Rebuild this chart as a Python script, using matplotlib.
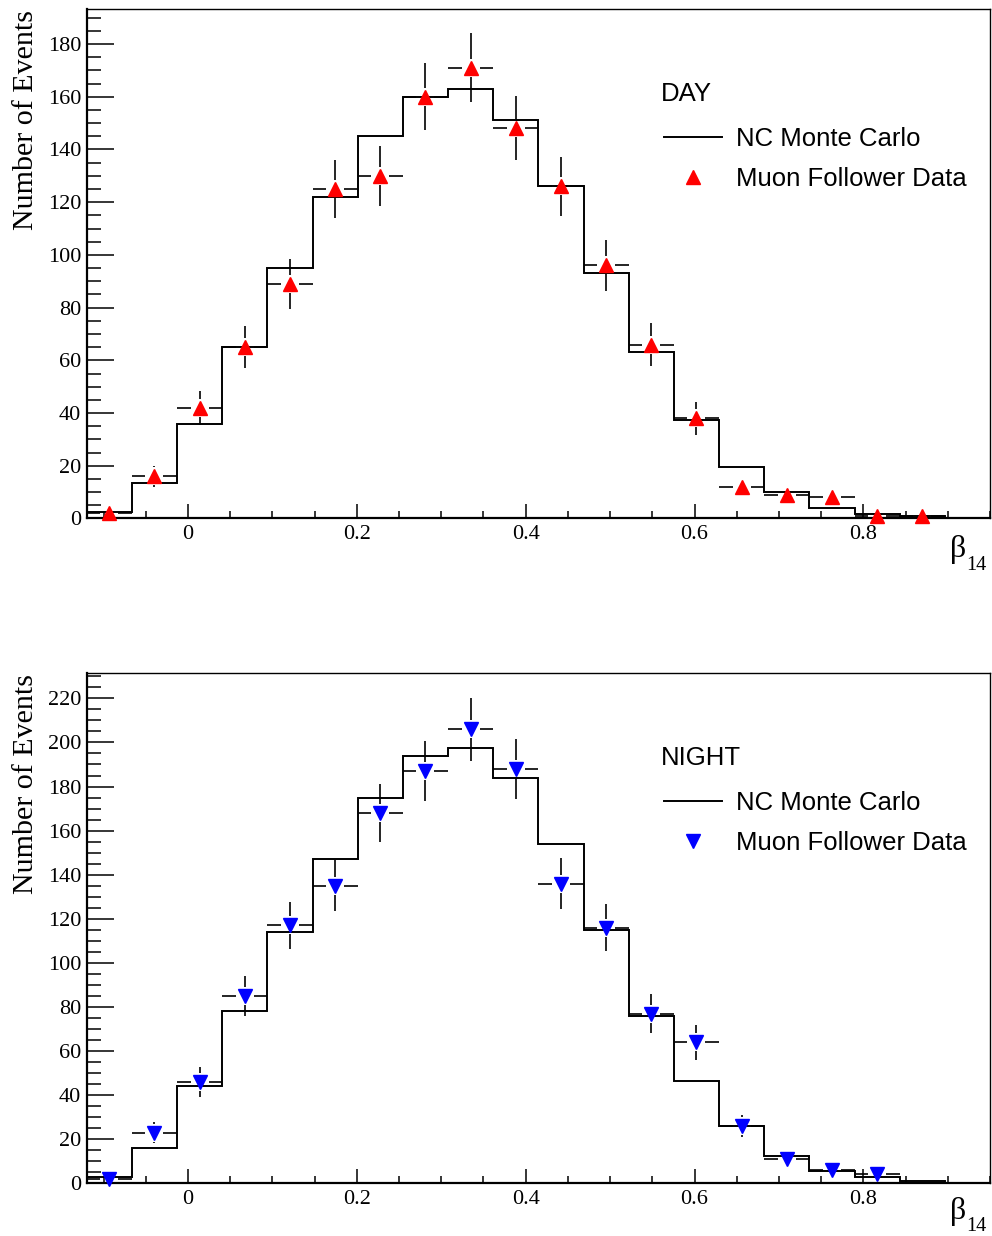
import numpy as np
import matplotlib
matplotlib.use("Agg")
import matplotlib.pyplot as plt
from matplotlib.ticker import MultipleLocator, FuncFormatter
from matplotlib.collections import LineCollection
from matplotlib.lines import Line2D

# Binning of the beta_14 isotropy parameter
BETA_LO, BETA_HI, N_BINS = -0.12, 0.95, 20

# Day sample: normalised NC Monte Carlo and muon-follower counts per bin
day_mc = [2.5, 13.5, 36, 65, 95, 122, 145, 160, 163, 151,
          126, 93, 63, 37.5, 19.5, 10, 4, 1.8, 0.8, 0]
day_data = [2, 16, 42, 65, 89, 125, 130, 160, 171, 148,
            126, 96, 66, 38, 12, 9, 8, 1, 1]

# Night sample
night_mc = [3, 16, 44, 78, 114, 147, 175, 194, 197.5, 184,
            154, 115, 76, 46.5, 26, 12.5, 5.7, 2.7, 1.1, 0]
night_data = [2, 23, 46, 85, 117, 135, 168, 187, 206, 188,
              136, 116, 77, 64, 26, 11, 6, 4]

x_label = "β"
x_label_sub = "14"
y_label = "Number of Events"
mc_label = "NC Monte Carlo"
data_label = "Muon Follower Data"

W, H = 992, 1236
fig = plt.figure(figsize=(W / 100, H / 100), dpi=100)

SERIF = "Liberation Serif"
SANS = "Liberation Sans"


def fx(px):
    return px / W


def fy(py):
    return 1 - py / H


def draw_panel(left, top, right, bottom, mc, data, color, marker, tag, title_dy):
    ax = fig.add_axes([fx(left), fy(bottom), (right - left) / W, (bottom - top) / H])
    edges = np.linspace(BETA_LO, BETA_HI, N_BINS + 1)
    centers = 0.5 * (edges[:-1] + edges[1:])
    half = 0.5 * (edges[1] - edges[0])
    counts = np.asarray(data, dtype=float)
    n = len(counts)
    xs = centers[:n]
    err = np.sqrt(counts)
    ymax = 1.05 * np.max(counts + err)

    ax.set_xlim(BETA_LO, BETA_HI)
    ax.set_ylim(0, ymax)

    # Monte Carlo histogram outline
    ax.stairs(mc, edges, color="black", lw=1.4, zorder=2)

    # Error bars with a gap left around each marker
    gap = 9.0
    gx = gap * (BETA_HI - BETA_LO) / ax.bbox.width
    gy = gap * ymax / ax.bbox.height
    segs = []
    for x, y, e in zip(xs, counts, err):
        segs.append([(x - half, y), (x - gx, y)])
        segs.append([(x + gx, y), (x + half, y)])
        if e > gy:
            segs.append([(x, y + gy), (x, y + e)])
            segs.append([(x, y - e), (x, y - gy)])
    ax.add_collection(LineCollection(segs, colors="black", linewidths=1.2, zorder=3))

    ax.plot(xs, counts, ls="none", marker=marker, ms=10.5, color=color,
            mec=color, zorder=4, clip_on=False)

    # Axis styling
    ax.xaxis.set_major_locator(MultipleLocator(0.2))
    ax.xaxis.set_minor_locator(MultipleLocator(0.05))
    ax.yaxis.set_major_locator(MultipleLocator(20))
    ax.yaxis.set_minor_locator(MultipleLocator(5))
    ax.xaxis.set_major_formatter(FuncFormatter(lambda v, p: "0" if abs(v) < 1e-9 else f"{v:g}"))
    ax.yaxis.set_major_formatter(FuncFormatter(lambda v, p: f"{v:g}"))
    ax.tick_params(axis="both", which="both", direction="in", top=False, right=False,
                   width=1.1, color="black")
    ax.tick_params(axis="x", which="major", length=10, pad=5)
    ax.tick_params(axis="x", which="minor", length=5)
    ax.tick_params(axis="y", which="major", length=19.5, pad=4)
    ax.tick_params(axis="y", which="minor", length=10)
    for lbl in ax.get_xticklabels() + ax.get_yticklabels():
        lbl.set_fontfamily(SERIF)
        lbl.set_fontsize(16)
    for side in ("left", "bottom"):
        ax.spines[side].set_linewidth(1.6)
    for side in ("top", "right"):
        ax.spines[side].set_linewidth(1.0)

    # Sample tag and legend
    ax_h = bottom - top
    ax_w = right - left
    ax.text((660.7 - left) / ax_w, 1 - 92.0 / ax_h, tag, transform=ax.transAxes,
            family=SANS, fontsize=18.5, va="baseline", ha="left")
    handles = [Line2D([], [], color="black", lw=1.4),
               Line2D([], [], ls="none", marker=marker, ms=10.5, color=color)]
    ax.legend(handles, [mc_label, data_label], loc="upper left",
              bbox_to_anchor=((664 - left) / ax_w, 1 - 118.0 / ax_h),
              frameon=False, prop=dict(family=SANS, size=18.5),
              handlelength=2.25, handletextpad=0.55, labelspacing=0.62,
              borderpad=0, borderaxespad=0)

    # Axis titles
    fig.text(fx(33), fy(top + 111), y_label, rotation=90, rotation_mode="anchor",
             ha="center", va="baseline", family=SERIF, fontsize=21.6)
    fig.text(fx(950), fy(bottom + title_dy), x_label, ha="left", va="baseline",
             family=SERIF, fontsize=23)
    fig.text(fx(966.5), fy(bottom + title_dy + 12), x_label_sub, ha="left", va="baseline",
             family=SERIF, fontsize=14.5)
    return ax


draw_panel(86.7, 9.0, 990.0, 518.5, day_mc, day_data, "#ff0000", "^", "DAY", 39)
draw_panel(86.7, 673.3, 990.0, 1183.3, night_mc, night_data, "#0000ff", "v", "NIGHT", 36)

fig.savefig("out.png", dpi=100)
